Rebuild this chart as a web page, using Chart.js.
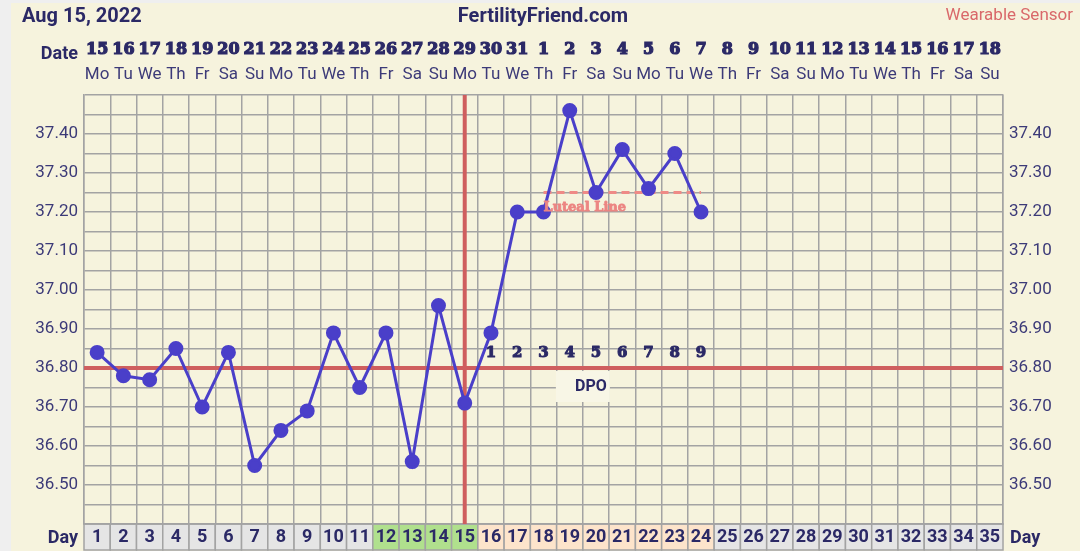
<!DOCTYPE html>
<html>
<head>
<meta charset="utf-8">
<script src="https://cdn.jsdelivr.net/npm/chart.js@4.4.0/dist/chart.umd.min.js"></script>
<style>
  body { margin:0; background:#efefef; }
  #wrap { position:relative; width:1080px; height:551px; overflow:hidden; }
  #bg { position:absolute; left:11px; top:3px; right:0; bottom:0; background:#f6f3dd; }
  canvas { position:absolute; left:0; top:0; }
  .t { position:absolute; white-space:nowrap; line-height:1; font-family:Roboto, sans-serif; color:#2b2966; }
</style>
</head>
<body>
<div id="wrap">
  <div id="bg"></div>
  <canvas id="c" width="1080" height="551"></canvas>
  <div class="t" style="left:22px;top:5px;font-size:20px;font-weight:bold;">Aug 15, 2022</div>
  <div class="t" style="left:443px;width:200px;text-align:center;top:5px;font-size:20px;font-weight:bold;">FertilityFriend.com</div>
  <div class="t" style="right:7px;top:6px;font-size:17px;color:#d9686a;">Wearable Sensor</div>
  <div class="t" style="right:1002px;top:44px;font-size:18px;font-weight:bold;">Date</div>
  <div class="t" style="right:1002px;top:528px;font-size:18px;font-weight:bold;">Day</div>
  <div class="t" style="left:1010px;top:528px;font-size:18px;font-weight:bold;">Day</div>
</div>
<script>
// ---- data ----
const days = ['1','2','3','4','5','6','7','8','9','10','11','12','13','14','15','16','17','18','19','20','21','22','23','24','25','26','27','28','29','30','31','32','33','34','35'];
const dates = ['15','16','17','18','19','20','21','22','23','24','25','26','27','28','29','30','31','1','2','3','4','5','6','7','8','9','10','11','12','13','14','15','16','17','18'];
const weekdays = ['Mo','Tu','We','Th','Fr','Sa','Su','Mo','Tu','We','Th','Fr','Sa','Su','Mo','Tu','We','Th','Fr','Sa','Su','Mo','Tu','We','Th','Fr','Sa','Su','Mo','Tu','We','Th','Fr','Sa','Su'];
const temps = [36.84,36.78,36.77,36.85,36.70,36.84,36.55,36.64,36.69,36.89,36.75,36.89,36.56,36.96,36.71,36.89,37.20,37.20,37.46,37.25,37.36,37.26,37.35,37.20,null,null,null,null,null,null,null,null,null,null,null];
const lutealLine = [null,null,null,null,null,null,null,null,null,null,null,null,null,null,null,null,null,37.25,37.25,37.25,37.25,37.25,37.25,37.25,null,null,null,null,null,null,null,null,null,null,null];
const coverline = 36.80;
const ovulationDay = '15';
const dpoDays = ['16','17','18','19','20','21','22','23','24'];
const dpoLabels = ['1','2','3','4','5','6','7','8','9'];
const fertileDays = ['12','13','14','15'];
const lutealDays = ['16','17','18','19','20','21','22','23','24'];
const yMin = 36.40, yMax = 37.50, yStep = 0.05;
const yLabelMin = 36.50, yLabelMax = 37.40;

// ---- styles ----
const NAVY = '#2b2966';
const TICK = '#3c3a78';
const GRID = '#a3a3a3';
const RED = '#cf5e5e';
const slab = "'DejaVu Serif', 'Liberation Serif', serif";

function yLabel(value){
  const v = Math.round(value*100);
  if (v % 10 === 0 && v >= Math.round(yLabelMin*100) && v <= Math.round(yLabelMax*100)) return (v/100).toFixed(2);
  return '';
}

function boldText(ctx, txt, x, y, w){
  ctx.lineWidth = w;
  ctx.lineJoin = 'round';
  ctx.strokeStyle = ctx.fillStyle;
  ctx.strokeText(txt, x, y);
  ctx.fillText(txt, x, y);
}

const overlay = {
  id: 'overlay',
  beforeDraw(chart){
    const ctx = chart.ctx, x = chart.scales.x, ca = chart.chartArea;
    const w = (ca.right - ca.left) / days.length;
    ctx.save();
    days.forEach((d, i) => {
      const cx = x.getPixelForValue(i);
      let fill = '#e5e5e5';
      if (fertileDays.includes(d)) fill = '#b0e08d';
      else if (lutealDays.includes(d)) fill = '#fde4cb';
      ctx.fillStyle = fill;
      ctx.fillRect(cx - w/2, ca.bottom, w, 550 - ca.bottom);
      ctx.strokeStyle = GRID;
      ctx.lineWidth = 1.5;
      ctx.strokeRect(cx - w/2, ca.bottom, w, 550 - ca.bottom);
    });
    ctx.restore();
  },
  beforeDatasetsDraw(chart){
    const ctx = chart.ctx, x = chart.scales.x, y = chart.scales.y, ca = chart.chartArea;
    ctx.save();
    // coverline
    const yc = y.getPixelForValue(coverline);
    ctx.strokeStyle = RED;
    ctx.lineWidth = 4;
    ctx.beginPath(); ctx.moveTo(ca.left, yc); ctx.lineTo(ca.right, yc); ctx.stroke();
    // ovulation line
    const xo = x.getPixelForValue(days.indexOf(ovulationDay));
    ctx.beginPath(); ctx.moveTo(xo, ca.top); ctx.lineTo(xo, ca.bottom); ctx.stroke();
    // DPO numbers
    ctx.fillStyle = NAVY;
    ctx.font = 'bold 15px ' + slab;
    ctx.textAlign = 'center'; ctx.textBaseline = 'middle';
    dpoDays.forEach((d, i) => {
      boldText(ctx, dpoLabels[i], x.getPixelForValue(days.indexOf(d)), yc - 15, 1);
    });
    // DPO box
    const x19 = x.getPixelForValue(days.indexOf('19')), x20 = x.getPixelForValue(days.indexOf('20'));
    const mid = (x19 + x20) / 2;
    ctx.fillStyle = '#f8f6e6';
    ctx.fillRect(mid - 27, yc + 3, 54, 31);
    ctx.fillStyle = NAVY;
    ctx.font = 'bold 16px Roboto, sans-serif';
    ctx.fillText('DPO', mid + 8, yc + 19);
    ctx.restore();
  },
  afterDatasetsDraw(chart){
    const ctx = chart.ctx, x = chart.scales.x, y = chart.scales.y;
    ctx.save();
    const firstL = lutealLine.findIndex(v => v !== null);
    ctx.fillStyle = '#ec8582';
    ctx.font = 'bold 13px ' + slab;
    ctx.textAlign = 'left'; ctx.textBaseline = 'middle';
    boldText(ctx, 'Luteal Line', x.getPixelForValue(firstL), y.getPixelForValue(lutealLine[firstL]) + 15, 0.8);
    ctx.restore();
  }
};

new Chart(document.getElementById('c'), {
  type: 'line',
  data: {
    labels: days,
    datasets: [
      {
        data: temps,
        borderColor: '#4a3fc9',
        backgroundColor: '#4a3fc9',
        pointBackgroundColor: '#4a3fc9',
        pointBorderColor: '#4a3fc9',
        borderWidth: 3,
        pointRadius: 6,
        tension: 0,
        spanGaps: false
      },
      {
        data: lutealLine,
        borderColor: '#ef8a86',
        borderWidth: 3,
        borderDash: [8, 5],
        pointRadius: 0,
        tension: 0
      }
    ]
  },
  options: {
    responsive: false,
    animation: false,
    devicePixelRatio: 1,
    layout: { padding: { top: 30, left: 0, right: 0, bottom: 0 } },
    plugins: { legend: { display: false }, tooltip: { enabled: false }, title: { display: false } },
    scales: {
      x: {
        type: 'category',
        position: 'bottom',
        offset: true,
        grid: { offset: true, color: GRID, lineWidth: 1.5, drawTicks: false },
        border: { color: GRID, width: 1.5 },
        ticks: { autoSkip: false, maxRotation: 0, padding: 3, color: NAVY, font: { family: 'Roboto', size: 18, weight: 'bold' } },
        afterFit(s){ s.height = 27; }
      },
      xWeek: {
        type: 'category',
        position: 'top',
        labels: weekdays,
        offset: true,
        weight: 0,
        grid: { display: false, drawTicks: false },
        border: { display: false },
        ticks: { autoSkip: false, maxRotation: 0, padding: 10, color: TICK, font: { family: 'Roboto', size: 17 } },
        afterFit(s){ s.height = 30; }
      },
      xDate: {
        type: 'category',
        position: 'top',
        labels: dates,
        offset: true,
        weight: 1,
        grid: { display: false, drawTicks: false },
        border: { display: false },
        ticks: { autoSkip: false, maxRotation: 0, padding: 6, color: NAVY, textStrokeColor: NAVY, textStrokeWidth: 1.2, font: { family: slab, size: 16, weight: 'bold' } },
        afterFit(s){ s.height = 35; }
      },
      y: {
        type: 'linear',
        position: 'left',
        min: yMin, max: yMax,
        grid: { color: GRID, lineWidth: 1.5, drawTicks: false },
        border: { color: GRID, width: 1.5 },
        ticks: { stepSize: yStep, autoSkip: false, padding: 6, color: TICK, font: { family: 'Roboto', size: 17 }, callback: yLabel },
        afterFit(s){ s.width = 84; }
      },
      y2: {
        type: 'linear',
        position: 'right',
        min: yMin, max: yMax,
        grid: { display: false, drawTicks: false },
        border: { color: GRID, width: 1.5 },
        ticks: { stepSize: yStep, autoSkip: false, padding: 6, color: TICK, font: { family: 'Roboto', size: 17 }, callback: yLabel },
        afterFit(s){ s.width = 77; }
      }
    }
  },
  plugins: [overlay]
});
</script>
</body>
</html>
